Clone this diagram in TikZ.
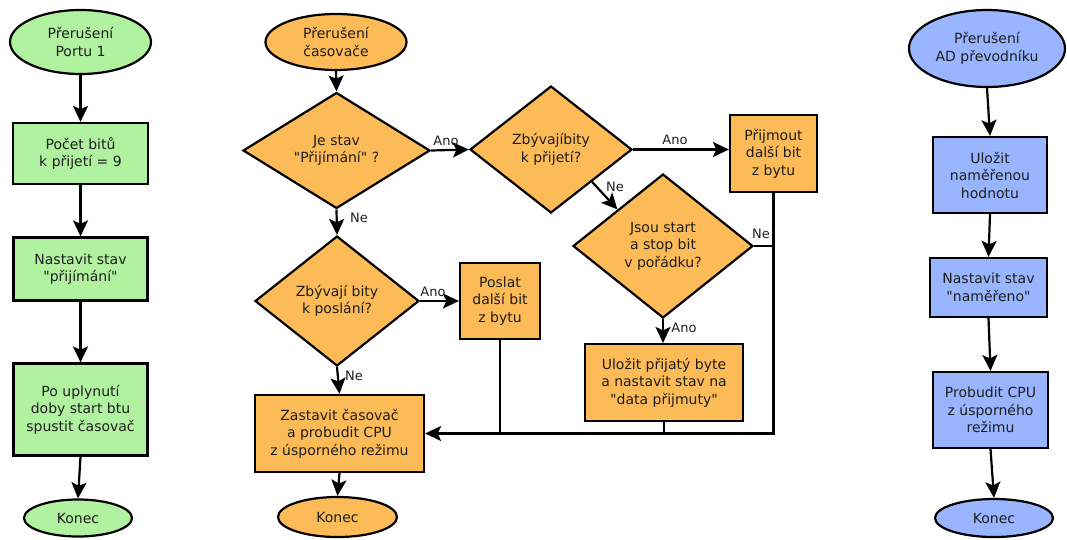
\documentclass[tikz,border=0pt]{standalone}
\usepackage{fontspec}
\setmainfont{DejaVu Sans}[Ligatures=TeXOff]
\usetikzlibrary{shapes.geometric,arrows.meta}
\definecolor{gfill}{HTML}{B0F2A0}
\definecolor{ofill}{HTML}{FDBB58}
\definecolor{bfill}{HTML}{99B5FF}
\definecolor{txt}{HTML}{1E1E1E}
\tikzset{
 base/.style={draw=black, line width=2.2pt, inner sep=0pt, align=center, text=txt, font=\fontsize{14}{17.5}\selectfont},
 box/.style={base, rectangle},
 term/.style={base, ellipse},
 dec/.style={base, diamond},
 arr/.style={line width=2.2pt, -{Stealth[length=16pt,width=15pt,inset=3.5pt]}},
 ln/.style={line width=2.2pt},
 lbl/.style={font=\fontsize{13}{15}\selectfont, text=txt, inner sep=0pt},
}
\begin{document}
\begin{tikzpicture}[x=1pt,y=-1pt]
\useasboundingbox (0,0) rectangle (1067,539);
% left column
\node[term, fill=gfill, minimum width=141pt, minimum height=64pt] (e1) at (80.5,42) {Přerušení\\Portu 1};
\node[box, fill=gfill, minimum width=135pt, minimum height=61pt] (l1) at (80.5,153.5) {Počet bitů\\k přijetí = 9};
\node[box, fill=gfill, minimum width=134pt, minimum height=63pt] (l2) at (80.5,269) {Nastavit stav\\"přijímání"};
\node[box, fill=gfill, minimum width=134pt, minimum height=92pt] (l3) at (80.5,409.5) {Po uplynutí\\doby start btu\\spustit časovač};
\node[term, fill=gfill, minimum width=108pt, minimum height=37pt] (k1) at (78,518) {Konec};
\draw[arr] (e1.south) -- (l1.north);
\draw[arr] (l1.south) -- (l2.north);
\draw[arr] (l2.south) -- (l3.north);
\draw[arr] (l3.south) -- (k1.north);
% middle
\node[term, fill=ofill, minimum width=141pt, minimum height=56pt] (e2) at (336,42) {Přerušení\\časovače};
\node[dec, fill=ofill, minimum width=187pt, minimum height=113pt] (d1) at (336.5,150.5) {Je stav\\"Přijímání" ?};
\node[dec, fill=ofill, minimum width=164pt, minimum height=130pt] (d4) at (337,301) {Zbývají bity\\k poslání?};
\node[box, fill=ofill, minimum width=169pt, minimum height=77pt] (zast) at (339.5,433.5) {Zastavit časovač\\a probudit CPU\\z úsporného režimu};
\node[term, fill=ofill, minimum width=119pt, minimum height=40pt] (k2) at (337.5,517) {Konec};
\node[dec, fill=ofill, minimum width=162pt, minimum height=127pt] (d2) at (551,149.5) {Zbývajíbity\\k přijetí?};
\node[box, fill=ofill, minimum width=87pt, minimum height=77pt] (prij) at (773.5,153.5) {Přijmout\\další bit\\z bytu};
\node[dec, fill=ofill, minimum width=180pt, minimum height=144pt] (d3) at (663,246) {Jsou start\\a stop bit\\v pořádku?};
\node[box, fill=ofill, minimum width=158pt, minimum height=77pt] (ulo) at (664,382.5) {Uložit přijatý byte\\a nastavit stav na\\"data přijmuty"};
\node[box, fill=ofill, minimum width=80pt, minimum height=76pt] (pos) at (500,301) {Poslat\\další bit\\z bytu};
\draw[arr] (e2.south) -- (d1.north);
\draw[arr] (d1.east) -- (d2.west);
\draw[arr] (d1.south) -- (d4.north);
\draw[arr] (d4.east) -- (pos.west);
\draw[arr] (d4.south) -- (zast.north);
\draw[arr] (zast.south) -- (k2.north);
\draw[arr] (d2.east) -- (d2.east -| prij.west);
\draw[arr] (d2.south east) -- (d3.north west);
\draw[arr] (d3.south) -- (d3.south |- ulo.north);
\coordinate (jr) at (prij.south |- zast.east);
\draw[arr] (prij.south) -- (jr) -- (zast.east);
\draw[ln] (d3.east) -- (d3.east -| prij.south);
\draw[ln] (ulo.south) -- (ulo.south |- zast.east);
\draw[ln] (pos.south) -- (pos.south |- zast.east);
% labels
\node[lbl] (la1) at (446,141) {Ano};
\node[lbl] (ln1) at (359,218) {Ne};
\node[lbl] (la2) at (675,140) {Ano};
\node[lbl] (ln2) at (615,187) {Ne};
\node[lbl] (ln3) at (761,234) {Ne};
\node[lbl] (la3) at (684,328) {Ano};
\node[lbl] (la4) at (433,292) {Ano};
\node[lbl] (ln4) at (354,376) {Ne};
% right column
\node[term, fill=bfill, minimum width=156pt, minimum height=77pt] (e3) at (987,48.5) {Přerušení\\AD převodníku};
\node[box, fill=bfill, minimum width=114pt, minimum height=76pt] (r1) at (990,175) {Uložit\\naměřenou\\hodnotu};
\node[box, fill=bfill, minimum width=117pt, minimum height=59pt] (r2) at (988.5,287.5) {Nastavit stav\\"naměřeno"};
\node[box, fill=bfill, minimum width=115pt, minimum height=76pt] (r3) at (990.5,410) {Probudit CPU\\z úsporného\\režimu};
\node[term, fill=bfill, minimum width=118pt, minimum height=38pt] (k3) at (994,518) {Konec};
\draw[arr] (e3.south) -- (r1.north);
\draw[arr] (r1.south) -- (r2.north);
\draw[arr] (r2.south) -- (r3.north);
\draw[arr] (r3.south) -- (k3.north);
\end{tikzpicture}
\end{document}
